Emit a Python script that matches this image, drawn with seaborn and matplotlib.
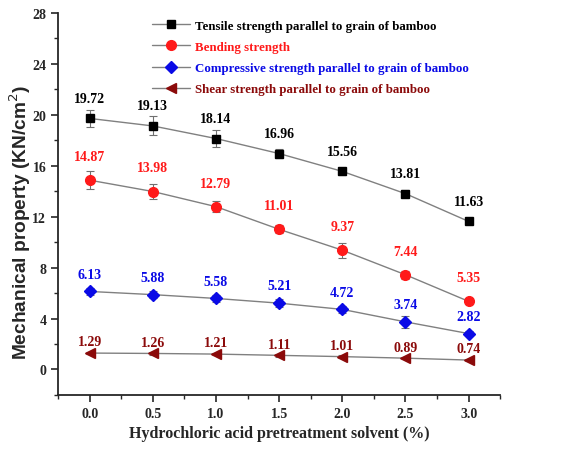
import numpy as np
import pandas as pd
import matplotlib
matplotlib.use("Agg")
import matplotlib.pyplot as plt
import seaborn as sns
from matplotlib.lines import Line2D
from matplotlib.ticker import MultipleLocator

concentration = [0.0, 0.5, 1.0, 1.5, 2.0, 2.5, 3.0]
tensile = [19.72, 19.13, 18.14, 16.96, 15.56, 13.81, 11.63]
bending = [14.87, 13.98, 12.79, 11.01, 9.37, 7.44, 5.35]
compressive = [6.13, 5.88, 5.58, 5.21, 4.72, 3.74, 2.82]
shear = [1.29, 1.26, 1.21, 1.11, 1.01, 0.89, 0.74]
tensile_err = [0.7, 0.75, 0.7, 0.35, 0.3, 0.25, 0.2]
bending_err = [0.7, 0.6, 0.45, 0.3, 0.6, 0.3, 0.2]
compressive_err = [0.3, 0.3, 0.3, 0.3, 0.3, 0.5, 0.2]
shear_err = [0.1, 0.1, 0.1, 0.1, 0.1, 0.1, 0.1]
series_names = ["Tensile strength parallel to grain of bamboo",
                "Bending strength",
                "Compressive strength parallel to grain of bamboo",
                "Shear strength parallel to grain of bamboo"]

sns.set_style("ticks")
serif = ["Liberation Serif", "DejaVu Serif"]

fig = plt.figure(figsize=(5.75, 4.52), dpi=100)
ax = fig.add_axes([0.101, 0.124, 0.769, 0.845])

# values, errors, colour, marker, marker size, label offset (pt)
series = [
    (tensile, tensile_err, "black", "s", 6, 14.5),
    (bending, bending_err, "#ff1a1a", "o", 7, 17),
    (compressive, compressive_err, "#0a0ae6", "D", 6, 12.5),
    (shear, shear_err, "#8b0a0a", "<", 7, 8),
]

handles = []
for (vals, err, col, mk, ms, off), name in zip(series, series_names):
    df = pd.DataFrame({"x": concentration, "y": vals})
    sns.lineplot(data=df, x="x", y="y", ax=ax, color="#808080", linewidth=1.0,
                 legend=False)
    ax.errorbar(concentration, vals, yerr=err, fmt="none", ecolor="#707070",
                elinewidth=0.8, capsize=3, capthick=0.8, zorder=3)
    ax.plot(concentration, vals, linestyle="none", marker=mk, markersize=ms,
            color=col, markeredgecolor=col, zorder=4)
    for x, v in zip(concentration, vals):
        ax.annotate(f"{v:.2f}", (x, v), xytext=(0, off), textcoords="offset points",
                    ha="center", va="center", fontsize=10, fontweight="bold",
                    color=col, family=serif)
    handles.append(Line2D([0], [0], color="#808080", linewidth=1.0, marker=mk,
                          markersize=ms, markerfacecolor=col, markeredgecolor=col))

ax.set_xlim(-0.25, 3.25)
ax.set_ylim(-2, 28)
ax.set_xticks(concentration)
ax.set_xticklabels([f"{c:.1f}" for c in concentration])
ax.xaxis.set_minor_locator(MultipleLocator(0.25))
ax.set_yticks([0, 4, 8, 12, 16, 20, 24, 28])
ax.yaxis.set_minor_locator(MultipleLocator(2))
ax.tick_params(axis="both", which="major", direction="out", length=5, width=1.2,
               labelsize=10)
ax.tick_params(axis="both", which="minor", direction="out", length=3, width=1.0)
for lbl in ax.get_xticklabels() + ax.get_yticklabels():
    lbl.set_fontfamily(serif)
    lbl.set_fontweight("bold")
for s in ["left", "bottom"]:
    ax.spines[s].set_linewidth(1.3)
sns.despine(ax=ax)

ax.set_xlabel("Hydrochloric acid pretreatment solvent (%)", fontsize=11.5,
              fontweight="bold", family=serif, labelpad=4)
ax.set_ylabel("Mechanical property (KN/cm$^2$)", fontsize=13.8, fontweight="bold",
              family=["Liberation Sans", "DejaVu Sans"])
ax.yaxis.set_label_coords(-0.057, 0.455)

leg = ax.legend(handles, series_names, loc="upper left",
                bbox_to_anchor=(0.213, 0.982), frameon=False, handlelength=2.9,
                handletextpad=0.4, borderpad=0, borderaxespad=0,
                labelspacing=0.7, prop={"family": serif, "weight": "bold", "size": 9.3})
for txt, s in zip(leg.get_texts(), series):
    txt.set_color(s[2])

fig.savefig("out.png", dpi=100)
